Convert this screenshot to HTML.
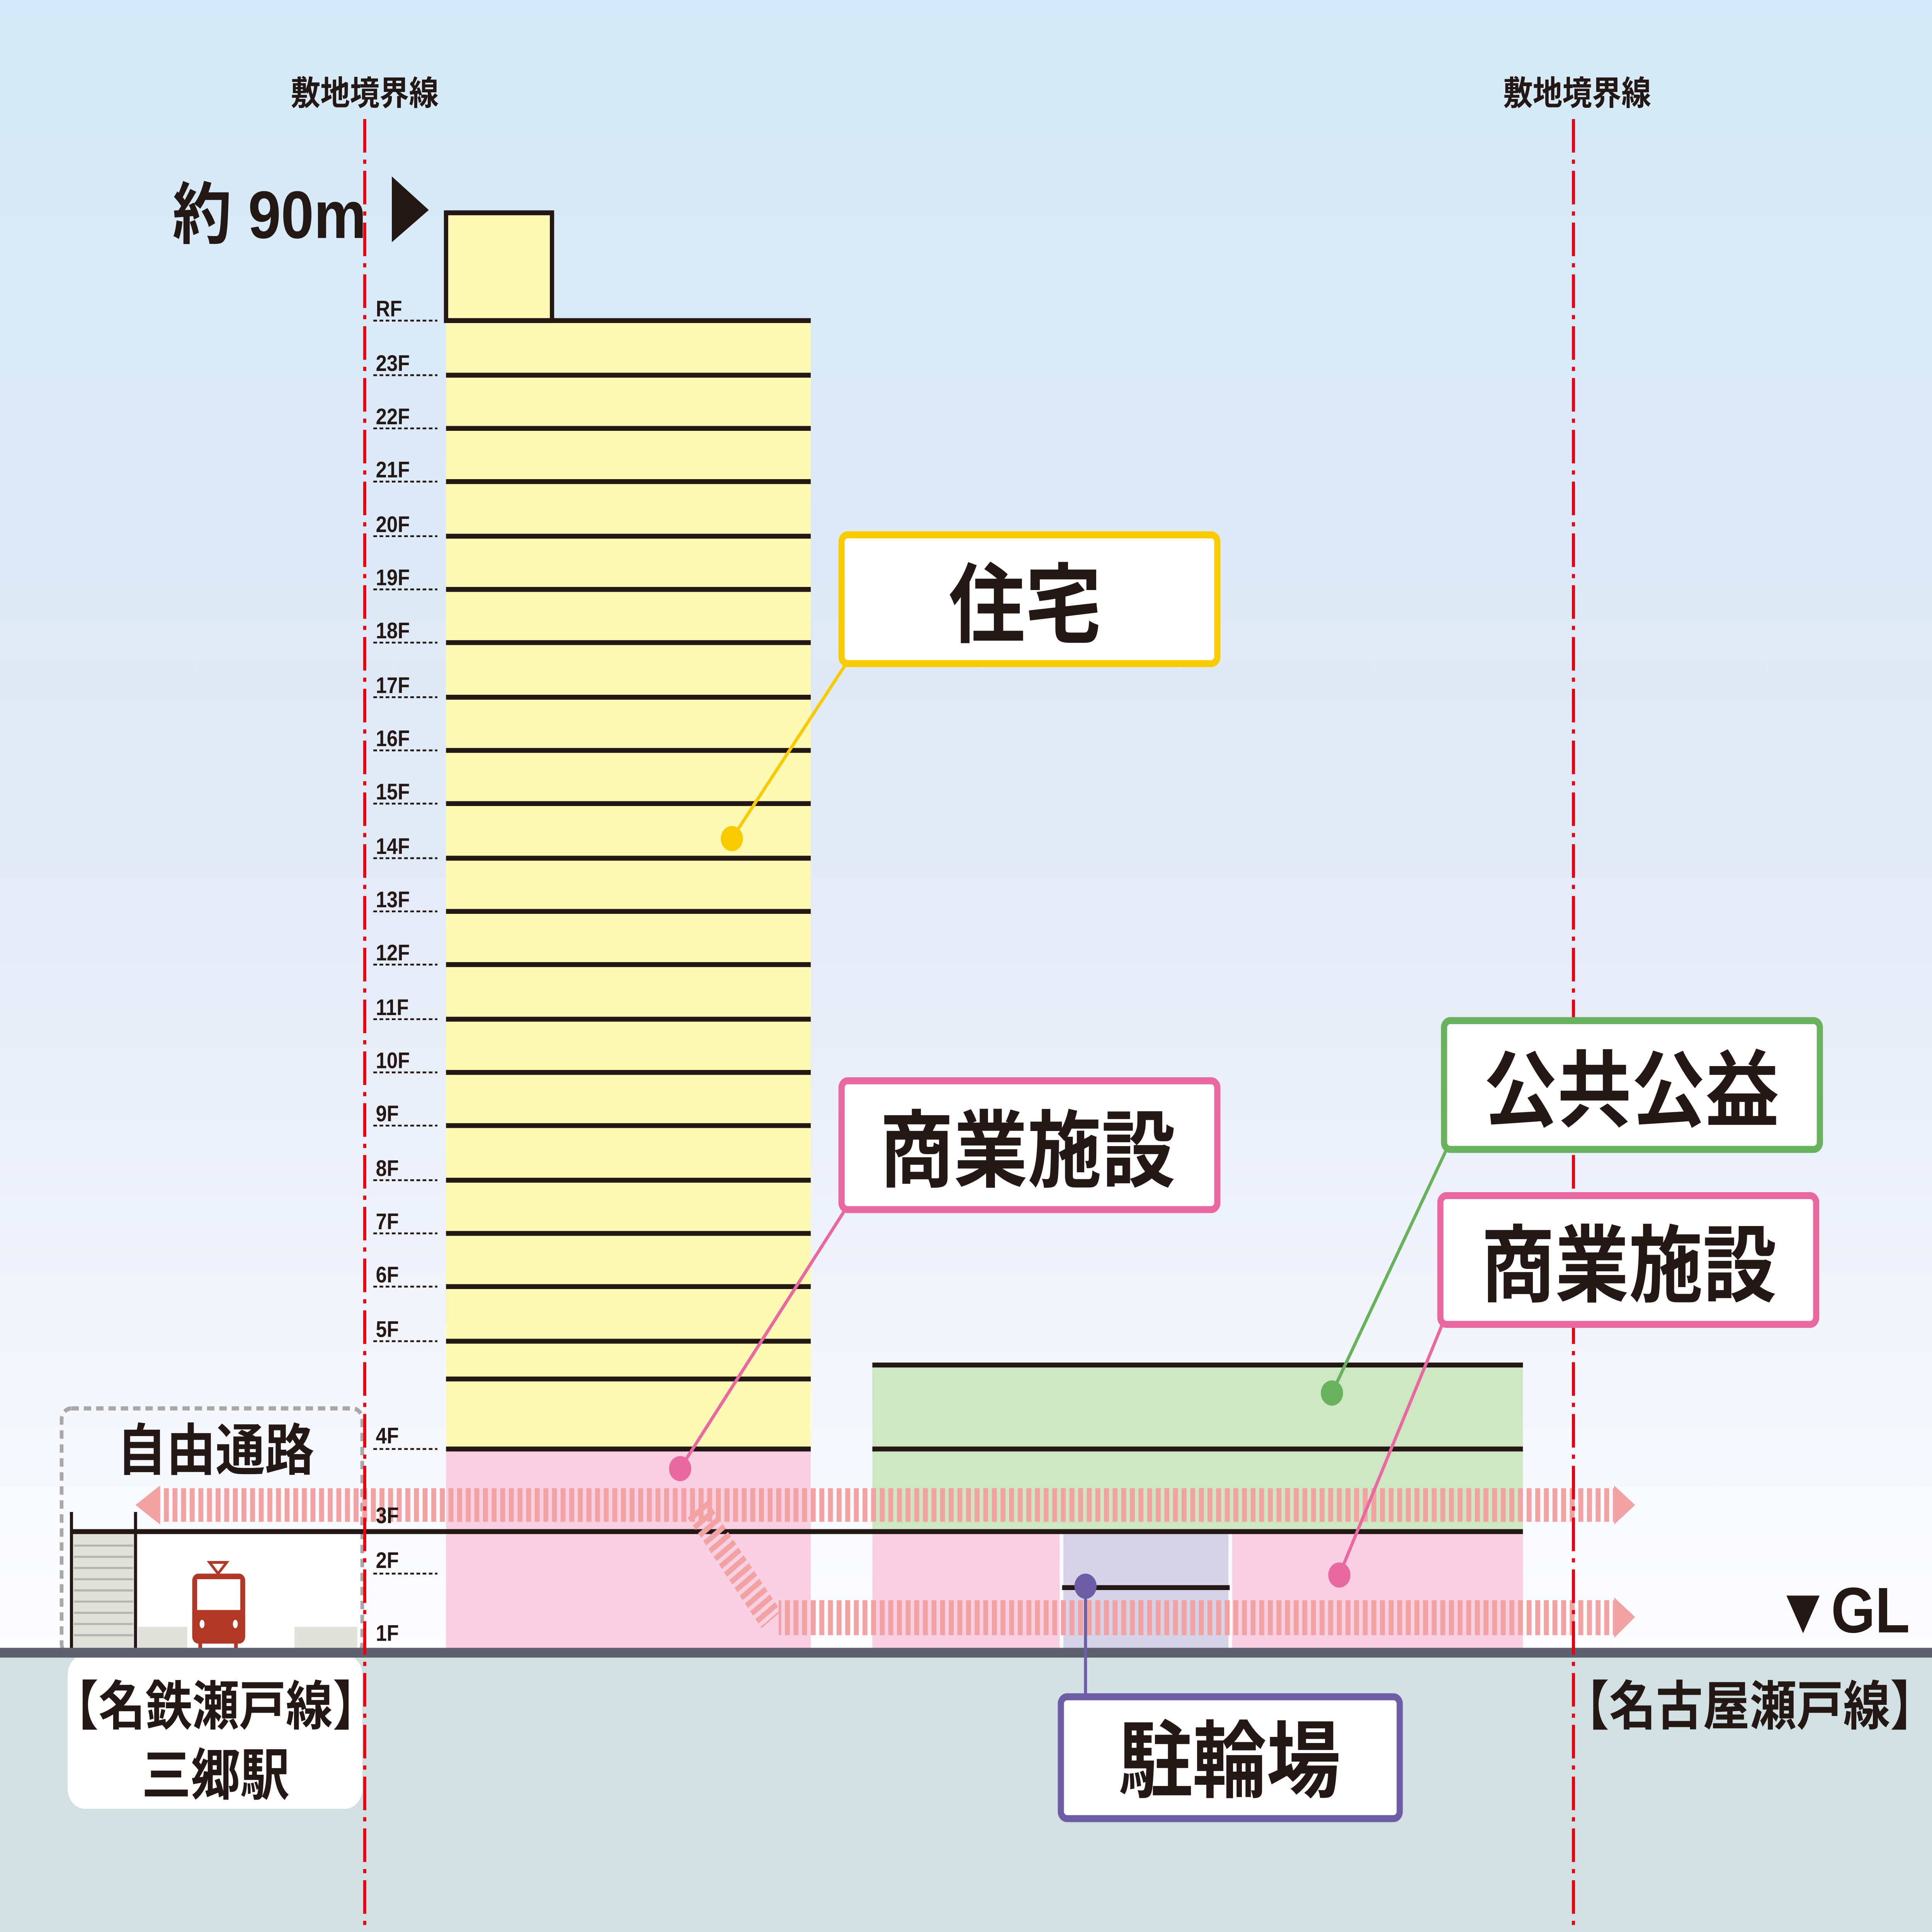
<!DOCTYPE html>
<html><head><meta charset="utf-8"><style>html,body{margin:0;padding:0;background:#fff;overflow:hidden;width:100vw;height:100vh}
svg{display:block;position:fixed;left:0;top:0;width:100vw;height:100vh}
text{font-family:"Liberation Sans","Noto Sans CJK JP",sans-serif;font-weight:bold;fill:#231815}</style></head>
<body>
<svg xmlns="http://www.w3.org/2000/svg" viewBox="0 0 1568 1380" preserveAspectRatio="none">
<defs>
<linearGradient id="sky" x1="0" y1="0" x2="0" y2="1">
<stop offset="0" stop-color="#d5eaf8"/><stop offset="0.55" stop-color="#e4eaf7"/><stop offset="1" stop-color="#fdfdff"/></linearGradient>
<pattern id="st" patternUnits="userSpaceOnUse" width="7" height="10"><rect x="0" y="0" width="4" height="10" fill="#f2a2a2"/></pattern>
</defs>
<rect x="0" y="0" width="1568" height="1180" fill="url(#sky)"/>
<rect x="0" y="1180" width="1568" height="200" fill="#d3e0e1"/>

<text x="296" y="75" font-size="24" text-anchor="middle" font-weight="normal">敷地境界線</text>
<text x="1280" y="75" font-size="24" text-anchor="middle" font-weight="normal">敷地境界線</text>

<rect x="55" y="1182" width="239" height="110" rx="14" fill="#fff"/>
<rect x="58" y="1094" width="236" height="83" fill="#fff"/>
<rect x="58" y="1094" width="52" height="83" fill="#e1e1dc"/>
<g stroke="#b5b5b0" stroke-width="1.5">
<line x1="60" y1="1104" x2="108" y2="1104"/><line x1="60" y1="1112" x2="108" y2="1112"/><line x1="60" y1="1120" x2="108" y2="1120"/><line x1="60" y1="1128" x2="108" y2="1128"/><line x1="60" y1="1136" x2="108" y2="1136"/><line x1="60" y1="1144" x2="108" y2="1144"/><line x1="60" y1="1152" x2="108" y2="1152"/><line x1="60" y1="1160" x2="108" y2="1160"/><line x1="60" y1="1168" x2="108" y2="1168"/></g>
<rect x="112" y="1162" width="40" height="15" fill="#e1e1dc"/>
<rect x="239" y="1162" width="51" height="15" fill="#e1e1dc"/>
<line x1="58" y1="1080" x2="58" y2="1178" stroke="#231815" stroke-width="2.5"/>
<line x1="110" y1="1080" x2="110" y2="1178" stroke="#231815" stroke-width="2.5"/>
<g fill="#b13826">
<rect x="156" y="1124" width="43" height="50" rx="5"/>
<rect x="161" y="1168" width="3" height="9"/><rect x="190" y="1168" width="3" height="9"/>
<path d="M170 1116 L184 1116 L177 1124 Z" fill="none" stroke="#b13826" stroke-width="2"/>
</g>
<rect x="160" y="1128" width="35" height="22" fill="#fff"/>
<ellipse cx="164" cy="1160" rx="2" ry="3" fill="#fff"/><ellipse cx="191" cy="1160" rx="2" ry="3" fill="#fff"/>
<rect x="50" y="1006" width="244" height="176" rx="8" fill="none" stroke="#a8a8a8" stroke-width="3" stroke-dasharray="6,4"/>
<text x="175" y="1050" font-size="40" text-anchor="middle">自由通路</text>
<text x="175" y="1232" font-size="38" text-anchor="middle">【名鉄瀬戸線】</text>
<text x="175" y="1282" font-size="40" text-anchor="middle">三郷駅</text>

<rect x="362" y="229" width="296" height="806" fill="#fef9b4"/>
<rect x="362" y="1035" width="296" height="142" fill="#f8d0e2"/>
<rect x="362" y="152" width="86" height="77" fill="#fef9b4" stroke="#231815" stroke-width="3.5"/>
<g stroke="#231815" stroke-width="3.5">
<line x1="362" y1="229" x2="658" y2="229"/><line x1="362" y1="268" x2="658" y2="268"/><line x1="362" y1="306" x2="658" y2="306"/><line x1="362" y1="344" x2="658" y2="344"/><line x1="362" y1="383" x2="658" y2="383"/><line x1="362" y1="421" x2="658" y2="421"/><line x1="362" y1="459" x2="658" y2="459"/><line x1="362" y1="498" x2="658" y2="498"/><line x1="362" y1="536" x2="658" y2="536"/><line x1="362" y1="574" x2="658" y2="574"/><line x1="362" y1="613" x2="658" y2="613"/><line x1="362" y1="651" x2="658" y2="651"/><line x1="362" y1="689" x2="658" y2="689"/><line x1="362" y1="728" x2="658" y2="728"/><line x1="362" y1="766" x2="658" y2="766"/><line x1="362" y1="804" x2="658" y2="804"/><line x1="362" y1="843" x2="658" y2="843"/><line x1="362" y1="881" x2="658" y2="881"/><line x1="362" y1="919" x2="658" y2="919"/><line x1="362" y1="958" x2="658" y2="958"/><line x1="362" y1="985" x2="658" y2="985"/><line x1="362" y1="1035" x2="658" y2="1035"/>
</g>
<g stroke="#231815" stroke-width="1.3" stroke-dasharray="3,2">
<line x1="303" y1="229" x2="355" y2="229"/><line x1="303" y1="268" x2="355" y2="268"/><line x1="303" y1="306" x2="355" y2="306"/><line x1="303" y1="344" x2="355" y2="344"/><line x1="303" y1="383" x2="355" y2="383"/><line x1="303" y1="421" x2="355" y2="421"/><line x1="303" y1="459" x2="355" y2="459"/><line x1="303" y1="498" x2="355" y2="498"/><line x1="303" y1="536" x2="355" y2="536"/><line x1="303" y1="574" x2="355" y2="574"/><line x1="303" y1="613" x2="355" y2="613"/><line x1="303" y1="651" x2="355" y2="651"/><line x1="303" y1="689" x2="355" y2="689"/><line x1="303" y1="728" x2="355" y2="728"/><line x1="303" y1="766" x2="355" y2="766"/><line x1="303" y1="804" x2="355" y2="804"/><line x1="303" y1="843" x2="355" y2="843"/><line x1="303" y1="881" x2="355" y2="881"/><line x1="303" y1="919" x2="355" y2="919"/><line x1="303" y1="958" x2="355" y2="958"/><line x1="303" y1="1035" x2="355" y2="1035"/><line x1="303" y1="1124" x2="355" y2="1124"/>
</g>
<text x="140" y="170" font-size="48">約 90m</text>
<path d="M318 126 L348 150 L318 173 Z" fill="#231815"/>

<rect x="708" y="975" width="528" height="119" fill="#cfe6c2"/>
<rect x="708" y="1094" width="152" height="83" fill="#f8d0e2"/>
<rect x="863" y="1094" width="134" height="83" fill="#d6d2e8"/>
<rect x="1000" y="1094" width="236" height="83" fill="#f8d0e2"/>
<g stroke="#231815" stroke-width="3.5">
<line x1="708" y1="975" x2="1236" y2="975"/><line x1="708" y1="1035" x2="1236" y2="1035"/>
<line x1="58" y1="1094" x2="1236" y2="1094"/><line x1="862" y1="1134" x2="998" y2="1134"/>
</g>

<rect x="130" y="1063" width="1180" height="24" fill="url(#st)"/>
<path d="M130 1061 L110 1075 L130 1089 Z" fill="#f2a2a2"/>
<path d="M1310 1061 L1327 1075 L1310 1089 Z" fill="#f2a2a2"/>
<rect x="632" y="1143" width="678" height="25" fill="url(#st)"/>
<path d="M1310 1141 L1327 1155 L1310 1170 Z" fill="#f2a2a2"/>
<line x1="566" y1="1078" x2="626" y2="1157" stroke="#f2a2a2" stroke-width="20" stroke-dasharray="4,3"/>

<g font-size="16">
<text x="305" y="226">RF</text><text x="305" y="265">23F</text><text x="305" y="303">22F</text><text x="305" y="341">21F</text><text x="305" y="380">20F</text><text x="305" y="418">19F</text><text x="305" y="456">18F</text><text x="305" y="495">17F</text><text x="305" y="533">16F</text><text x="305" y="571">15F</text><text x="305" y="610">14F</text><text x="305" y="648">13F</text><text x="305" y="686">12F</text><text x="305" y="725">11F</text><text x="305" y="763">10F</text><text x="305" y="801">9F</text><text x="305" y="840">8F</text><text x="305" y="878">7F</text><text x="305" y="916">6F</text><text x="305" y="955">5F</text><text x="305" y="1031">4F</text><text x="305" y="1088">3F</text><text x="305" y="1120">2F</text><text x="305" y="1172">1F</text>
</g>

<rect x="0" y="1177" width="1568" height="7" fill="#5e6070"/>

<g stroke="#e60012" stroke-width="2.5" stroke-dasharray="24,5,3,5">
<line x1="296" y1="85" x2="296" y2="1380"/><line x1="1277" y1="85" x2="1277" y2="1380"/></g>

<text x="1420" y="1232" font-size="38" text-anchor="middle">【名古屋瀬戸線】</text>
<text x="1550" y="1166" font-size="46" text-anchor="end">▼GL</text>

<line x1="686" y1="475" x2="594" y2="599" stroke="#f7cb00" stroke-width="2.5"/>
<circle cx="594" cy="599" r="9" fill="#f7cb00"/>
<rect x="683" y="382" width="305" height="92" rx="5" fill="#fff" stroke="#f7cb00" stroke-width="5"/>
<text x="832" y="454" font-size="62" text-anchor="middle">住宅</text>

<line x1="686" y1="864" x2="552" y2="1049" stroke="#e8689f" stroke-width="2.5"/>
<circle cx="552" cy="1049" r="9" fill="#e8689f"/>
<rect x="683" y="772" width="305" height="92" rx="5" fill="#fff" stroke="#e8689f" stroke-width="5"/>
<text x="834" y="843" font-size="60" text-anchor="middle">商業施設</text>

<line x1="1174" y1="821" x2="1081" y2="995" stroke="#68b25d" stroke-width="2.5"/>
<circle cx="1081" cy="995" r="9" fill="#68b25d"/>
<rect x="1172" y="729" width="305" height="92" rx="5" fill="#fff" stroke="#68b25d" stroke-width="5"/>
<text x="1324" y="800" font-size="60" text-anchor="middle">公共公益</text>

<line x1="1171" y1="945" x2="1087" y2="1125" stroke="#e8689f" stroke-width="2.5"/>
<circle cx="1087" cy="1125" r="9" fill="#e8689f"/>
<rect x="1169" y="854" width="305" height="92" rx="5" fill="#fff" stroke="#e8689f" stroke-width="5"/>
<text x="1322" y="925" font-size="60" text-anchor="middle">商業施設</text>

<line x1="881" y1="1133" x2="881" y2="1212" stroke="#6b5ea7" stroke-width="2.5"/>
<circle cx="881" cy="1133" r="9" fill="#6b5ea7"/>
<rect x="861" y="1212" width="275" height="87" rx="5" fill="#fff" stroke="#6b5ea7" stroke-width="5"/>
<text x="998" y="1279" font-size="60" text-anchor="middle">駐輪場</text>
</svg>
</body></html>
